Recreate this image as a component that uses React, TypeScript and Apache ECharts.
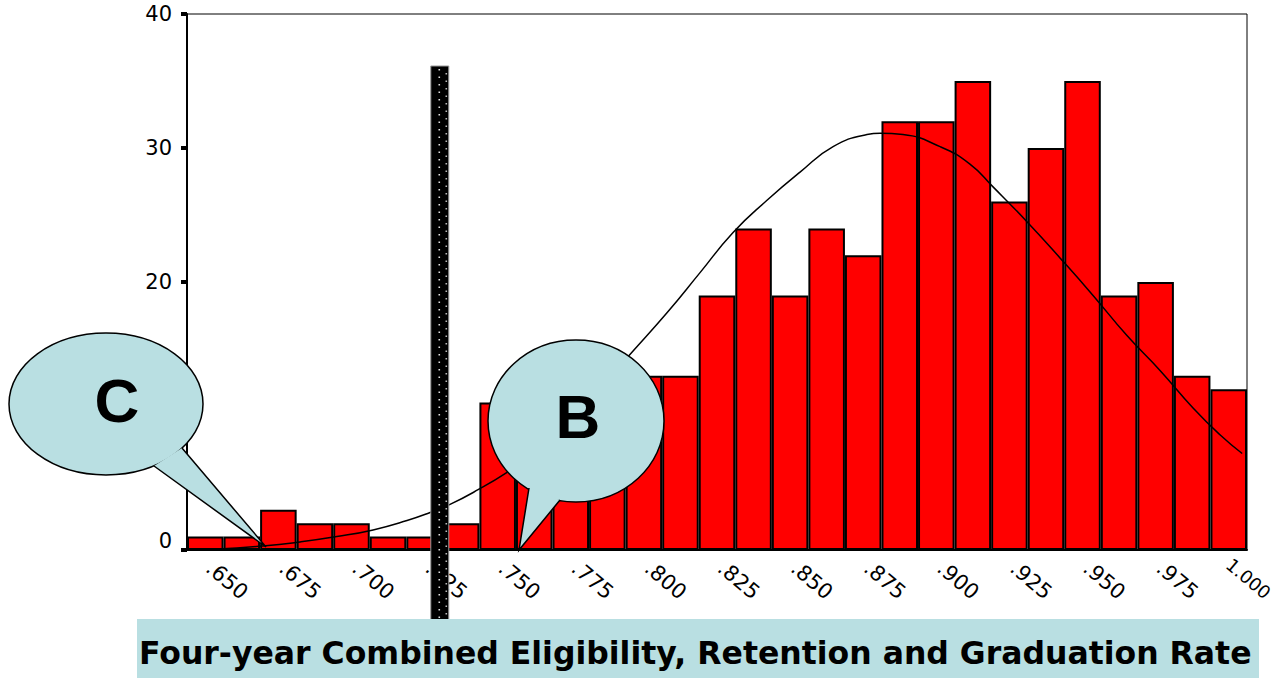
import React, { useEffect, useRef } from 'react';
import * as echarts from 'echarts';

// Histogram bins (centres) and counts
const categories = ['.650', '.6625', '.675', '.6875', '.700', '.7125', '.725', '.7375', '.750', '.7625', '.775', '.7875', '.800', '.8125', '.825', '.8375', '.850', '.8625', '.875', '.8875', '.900', '.9125', '.925', '.9375', '.950', '.9625', '.975', '.9875', '1.000'];
const counts = [1, 1, 3, 2, 2, 1, 1, 2, 11, 12, 10, 13, 13, 13, 19, 24, 19, 24, 22, 32, 32, 35, 26, 30, 35, 19, 20, 13, 12];

// Fitted normal curve
const curveX = [0.6438, 0.6526, 0.6697, 0.6824, 0.695, 0.7074, 0.719, 0.7269, 0.7337, 0.7433, 0.7532, 0.765, 0.78, 0.7953, 0.8079, 0.8192, 0.8305, 0.8421, 0.8534, 0.8647, 0.8763, 0.8808, 0.8886, 0.9013, 0.9115, 0.9194, 0.931, 0.9423, 0.9536, 0.9652, 0.9765, 0.9878, 0.997, 1.0046];
const curveY = [0, 0.05, 0.3, 0.6, 1.0, 1.5, 2.2, 2.8, 3.4, 4.5, 5.8, 7.6, 10.8, 14.6, 17.7, 20.7, 23.7, 26.1, 28.2, 30.1, 31.0, 31.1, 31.0, 30.1, 28.8, 27.1, 24.5, 21.8, 19.0, 16.0, 13.4, 10.6, 8.6, 7.2];

const yTicks = { min: 0, max: 40, interval: 10 };
const xRange = { min: 0.64375, max: 1.00625 };
const cutoff = 0.7302;

const titleText = 'Four-year Combined Eligibility, Retention and Graduation Rate';
const bubbleFill = '#b9dfe2';

export default function App() {
  const ref = useRef<HTMLDivElement>(null);
  useEffect(() => {
    const chart = echarts.init(ref.current!, null, { renderer: 'svg' });
    const lastLabel = categories[categories.length - 1];
    const option: any = {
      animation: false,
      backgroundColor: '#ffffff',
      grid: { left: 187, top: 14, width: 1060, height: 536, show: true, borderColor: '#000', borderWidth: 1, backgroundColor: 'transparent', outerBoundsMode: 'none', containLabel: false },
      xAxis: [
        {
          type: 'category',
          data: categories,
          axisLine: { lineStyle: { color: '#000', width: 2 } },
          axisTick: { alignWithLabel: true, interval: 1, length: 4, lineStyle: { color: '#000', width: 6 } },
          axisLabel: {
            interval: 1,
            rotate: -40,
            fontSize: 21,
            fontFamily: 'DejaVu Sans',
            color: '#000',
            margin: 12,
            formatter: (v: string) => (v === lastLabel ? '{e|' + v + '}' : '{n|' + v + '}'),
            rich: {
              n: { fontSize: 21, fontFamily: 'DejaVu Sans', color: '#000', padding: [0, 0, 0, 5] },
              e: { fontSize: 18, fontFamily: 'DejaVu Sans', color: '#000' },
            },
          },
          splitLine: { show: false },
        },
        { type: 'value', min: xRange.min, max: xRange.max, show: false },
      ],
      yAxis: {
        type: 'value',
        min: yTicks.min,
        max: yTicks.max,
        interval: yTicks.interval,
        axisLine: { show: true, lineStyle: { color: '#000', width: 2 } },
        axisTick: { show: true, length: 6, lineStyle: { color: '#000', width: 4 } },
        axisLabel: {
          fontSize: 21,
          fontFamily: 'DejaVu Sans',
          color: '#000',
          margin: 15,
          formatter: (v: number) => (v === 0 ? '{z|0}' : String(v)),
          rich: { z: { fontSize: 21, fontFamily: 'DejaVu Sans', color: '#000', padding: [0, 0, 18, 0] } },
        },
        splitLine: { show: false },
      },
      series: [
        {
          type: 'bar',
          xAxisIndex: 0,
          data: counts,
          barCategoryGap: '0%',
          itemStyle: { color: '#ff0000', borderColor: '#000', borderWidth: 2 },
          z: 2,
        },
        {
          type: 'line',
          xAxisIndex: 1,
          data: curveX.map((x, i) => [x, curveY[i]]),
          symbol: 'none',
          smooth: 0.5,
          lineStyle: { color: '#000', width: 1.5 },
          z: 3,
        },
      ],
    };
    chart.setOption(option);
    const cx = chart.convertToPixel({ xAxisIndex: 1 }, cutoff) as number;
    const barW = 18;
    const barTop = 66;
    const barBottom = 620;
    const graphic: any[] = [
      { type: 'rect', z: 50, shape: { x: cx - barW / 2, y: barTop, width: barW, height: barBottom - barTop }, style: { fill: '#000', stroke: '#999', lineWidth: 1 } },
      { type: 'line', z: 51, shape: { x1: cx - 0.5, y1: barTop + 3, x2: cx - 0.5, y2: barBottom }, style: { stroke: '#e0e0e0', lineWidth: 1.6, lineDash: [1.6, 5.9] } },
      { type: 'line', z: 51, shape: { x1: cx + 6.5, y1: barTop + 7, x2: cx + 6.5, y2: barBottom }, style: { stroke: '#bbbbbb', lineWidth: 1.6, lineDash: [1.6, 5.9] } },
      // Bubble C
      { type: 'ellipse', z: 100, shape: { cx: 106, cy: 404, rx: 97, ry: 71 }, style: { fill: bubbleFill, stroke: '#000', lineWidth: 1.5 } },
      { type: 'polygon', z: 101, shape: { points: [[154, 466], [266, 547], [182, 448]] }, style: { fill: bubbleFill } },
      { type: 'polyline', z: 102, shape: { points: [[154, 466], [266, 547], [182, 448]] }, style: { stroke: '#000', lineWidth: 1.5, fill: null } },
      { type: 'text', z: 103, style: { text: 'C', x: 117, y: 400, align: 'center', verticalAlign: 'middle', font: 'bold 62px "Liberation Sans"', fill: '#000' } },
      // Bubble B
      { type: 'ellipse', z: 100, shape: { cx: 576, cy: 421, rx: 88, ry: 81 }, style: { fill: bubbleFill, stroke: '#000', lineWidth: 1.5 } },
      { type: 'polygon', z: 101, shape: { points: [[529, 488], [519, 550], [560, 500]] }, style: { fill: bubbleFill } },
      { type: 'polyline', z: 102, shape: { points: [[529, 488], [519, 550], [560, 500]] }, style: { stroke: '#000', lineWidth: 1.5, fill: null } },
      { type: 'text', z: 103, style: { text: 'B', x: 578, y: 416, align: 'center', verticalAlign: 'middle', font: 'bold 62px "Liberation Sans"', fill: '#000' } },
      // Title box
      { type: 'rect', z: 60, shape: { x: 137, y: 619, width: 1122, height: 59 }, style: { fill: bubbleFill } },
      { type: 'text', z: 61, style: { text: titleText, x: 139, y: 653, align: 'left', verticalAlign: 'middle', font: 'bold 31.5px "DejaVu Sans"', fill: '#000' } },
    ];
    chart.setOption({ graphic });
    return () => chart.dispose();
  }, []);
  return <div ref={ref} style={{ position: 'fixed', left: 0, top: 0, width: 1283, height: 678, background: '#fff' }} />;
}
